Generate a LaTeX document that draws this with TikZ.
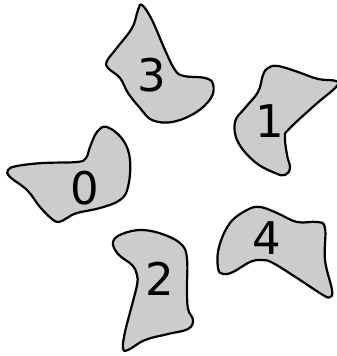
\documentclass[tikz,border=0pt]{standalone}
\usepackage{fontspec}
\setmainfont{DejaVu Sans}
\begin{document}
\begin{tikzpicture}[x=1pt,y=-1pt,
  blob/.style={draw=black,fill={rgb,255:red,204;green,204;blue,204},line width=2.2pt,line join=round},
  digit/.style={inner sep=0pt,font=\fontsize{45}{50}\selectfont}]
\useasboundingbox (0,0) rectangle (337,356);
% blob 3
\draw[blob] plot[smooth cycle,tension=0.65] coordinates {(142,5) (152,20) (165,50) (175,70) (184,76) (205,78) (213,84) (211,98) (195,113) (172,122) (152,120) (140,108) (128,93) (120,78) (108,68) (107,61) (116,49) (132,28) (138,10)};
% blob 1
\draw[blob] plot[smooth cycle,tension=0.65] coordinates {(268,68) (278,66) (298,72) (318,79) (336,81) (336,87) (315,105) (289,129) (285,137) (287,155) (290,168) (285,175) (275,173) (255,162) (238,142) (235,122) (245,108) (258,92) (263,75)};
% blob 0
\draw[blob] plot[smooth cycle,tension=0.65] coordinates {(107,127) (123,140) (130,160) (128,187) (120,200) (100,208) (77,213) (67,218) (59,222) (52,219) (40,207) (27,190) (10,177) (8,170) (17,166) (43,163) (77,162) (86,158) (90,147) (97,132)};
% blob 2
\draw[blob] plot[smooth cycle,tension=0.65] coordinates {(113,242) (122,234) (142,230) (165,235) (182,245) (187,259) (187,289) (188,309) (193,320) (188,329) (168,334) (145,340) (128,350) (123,348) (125,332) (132,305) (137,285) (137,275) (132,265) (118,254)};
% blob 4
\draw[blob] plot[smooth cycle,tension=0.65] coordinates {(218,268) (219,247) (230,223) (247,210) (260,207) (277,213) (297,222) (317,222) (325,228) (325,260) (332,290) (330,297) (323,295) (297,278) (273,263) (262,260) (250,262) (233,272) (223,274)};
\node[digit] (l3) at (152,75) {3};
\node[digit] (l1) at (270,121) {1};
\node[digit] (l0) at (85,188) {0};
\node[digit] (l2) at (160,279) {2};
\node[digit] (l4) at (267,238) {4};
\end{tikzpicture}
\end{document}
